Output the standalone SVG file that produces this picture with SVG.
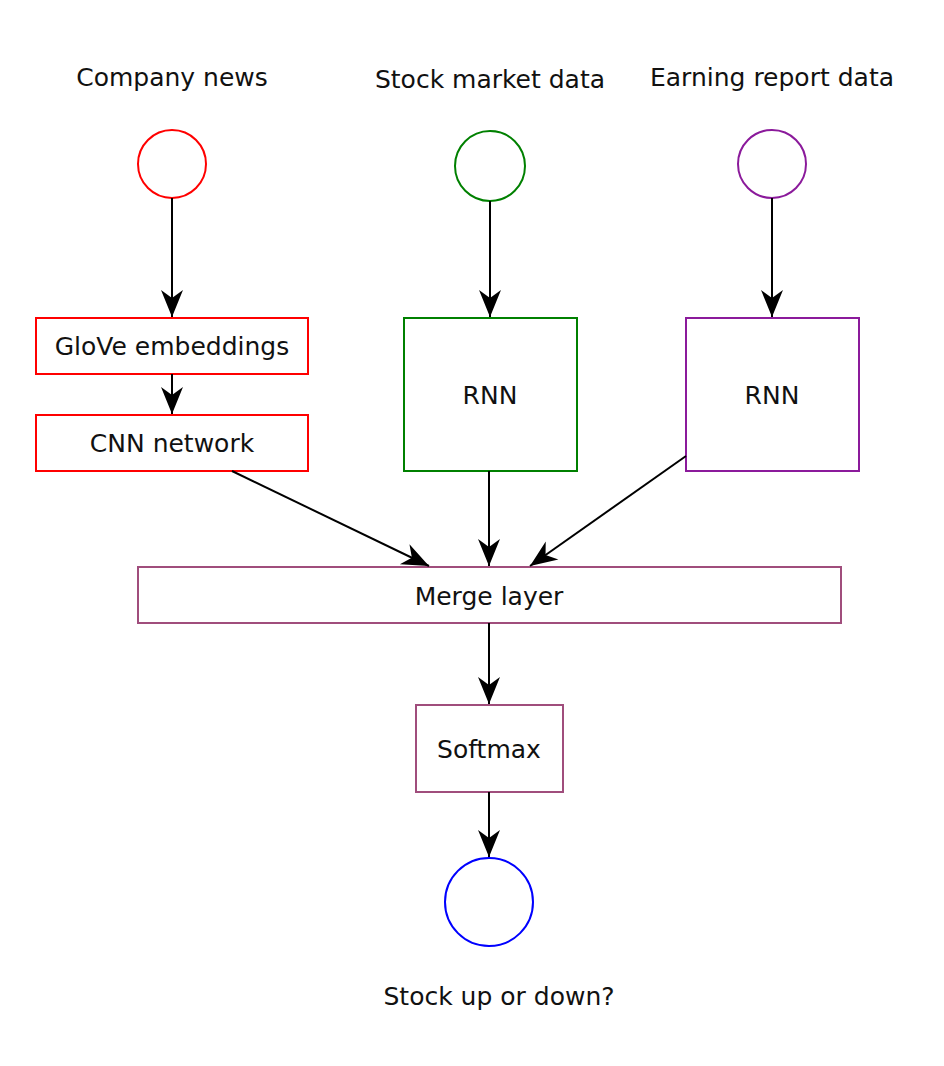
<svg xmlns="http://www.w3.org/2000/svg" width="944" height="1066" viewBox="0 0 944 1066">
<style>
text{font-family:"DejaVu Sans","Liberation Sans",sans-serif;font-size:25px;fill:#111;text-anchor:middle}
.n{fill:#fff;stroke-width:2}
.c{stroke:#000;stroke-width:2;fill:none;marker-end:url(#ah)}
</style>
<defs>
<marker id="ah" markerUnits="userSpaceOnUse" markerWidth="30" markerHeight="26" viewBox="-28 -13 30 26" refX="0" refY="0" orient="auto">
<path d="M0,0 L-27,-11 L-19,0 L-27,11 Z" fill="#000"/>
</marker>
</defs>
<rect width="944" height="1066" fill="#fff"/>
<g id="label-company"><text x="172" y="86">Company news</text></g>
<g id="label-stock"><text x="490" y="88">Stock market data</text></g>
<g id="label-earning"><text x="772" y="86">Earning report data</text></g>
<g id="in-news"><circle class="n" cx="172" cy="164" r="34" stroke="#f00"/></g>
<g id="in-stock"><circle class="n" cx="490" cy="166" r="35" stroke="#008000"/></g>
<g id="in-earning"><circle class="n" cx="772" cy="164" r="34" stroke="#8b1a9b"/></g>
<g id="glove"><rect class="n" x="36" y="318" width="272" height="56" stroke="#f00"/><text x="172" y="355">GloVe embeddings</text></g>
<g id="cnn"><rect class="n" x="36" y="415" width="272" height="56" stroke="#f00"/><text x="172" y="452">CNN network</text></g>
<g id="rnn-stock"><rect class="n" x="404" y="318" width="173" height="153" stroke="#008000"/><text x="490" y="404">RNN</text></g>
<g id="rnn-earning"><rect class="n" x="686" y="318" width="173" height="153" stroke="#8b1a9b"/><text x="772" y="404">RNN</text></g>
<g id="merge"><rect class="n" x="138" y="567" width="703" height="56" stroke="#a04d7c"/><text x="489" y="605">Merge layer</text></g>
<g id="softmax"><rect class="n" x="416" y="705" width="147" height="87" stroke="#a04d7c"/><text x="489" y="758">Softmax</text></g>
<g id="output"><circle class="n" cx="489" cy="902" r="44" stroke="#00f"/><text x="499" y="1005">Stock up or down?</text></g>
<g id="connectors">
<line class="c" x1="172" y1="198" x2="172" y2="317"/>
<line class="c" x1="490" y1="201" x2="490" y2="317"/>
<line class="c" x1="772" y1="198" x2="772" y2="317"/>
<line class="c" x1="172" y1="374" x2="172" y2="414"/>
<line class="c" x1="232" y1="471" x2="429" y2="566"/>
<line class="c" x1="489" y1="471" x2="489" y2="566"/>
<line class="c" x1="686" y1="456" x2="530" y2="566"/>
<line class="c" x1="489" y1="623" x2="489" y2="704"/>
<line class="c" x1="489" y1="792" x2="489" y2="857"/>
</g>
</svg>
